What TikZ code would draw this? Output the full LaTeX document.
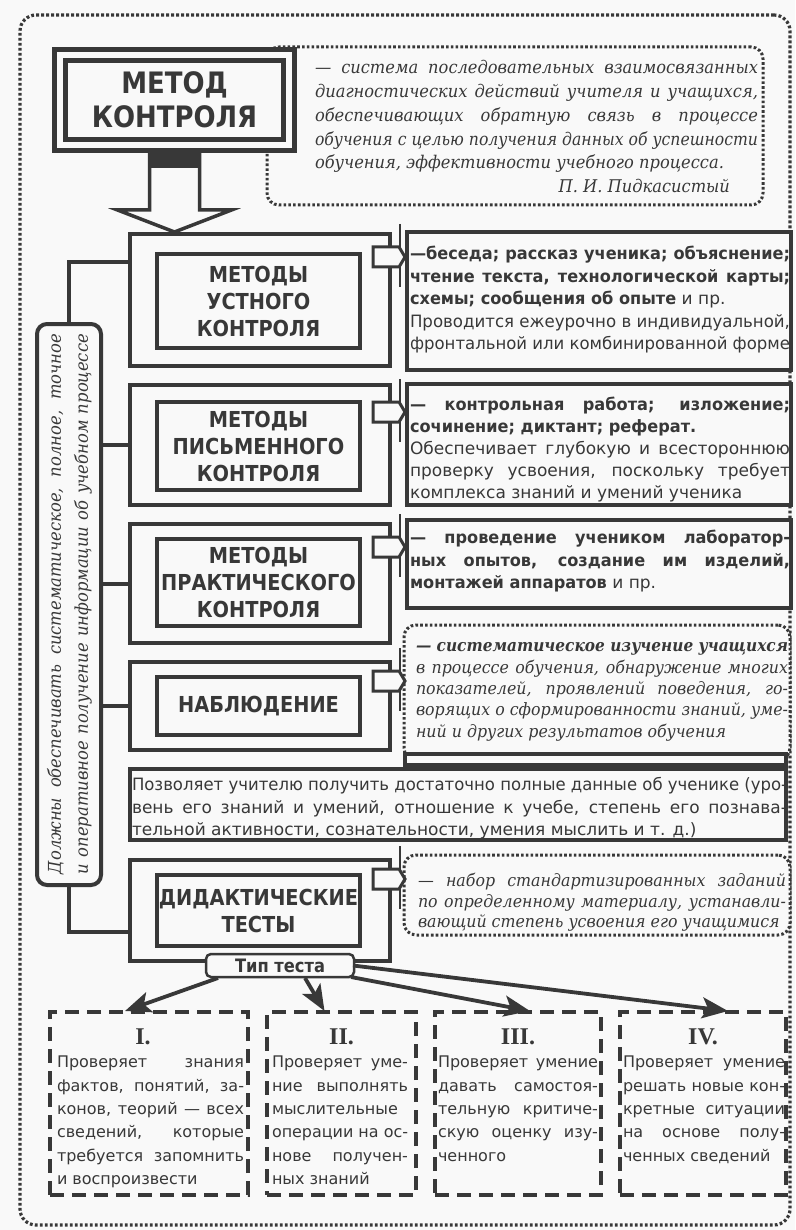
\documentclass[tikz,border=0pt]{standalone}
\usepackage{fontspec}
\usepackage{graphicx}
\usetikzlibrary{arrows.meta,calc}
\setmainfont{DejaVu Serif}
\newfontfamily\rsans{DejaVu Sans}
\newfontfamily\bsans[FakeStretch=0.88]{DejaVu Sans}
\newfontfamily\bbody[FakeStretch=0.95]{DejaVu Sans}
\newfontfamily\itser[FakeStretch=0.93]{DejaVu Serif}
\newfontfamily\numser{Liberation Serif}
\definecolor{ink}{gray}{0.22}
\definecolor{bg}{gray}{0.975}
\setlength\parindent{0pt}
\newlength\jlw
\newcommand\fline[2]{\spaceskip=0pt\xspaceskip=0pt\settowidth\jlw{#2}\ifdim\jlw>\hsize\makebox[\hsize][l]{\strut\resizebox{\hsize}{\height}{#2}}\else\makebox[\hsize][#1]{\strut #2}\fi\par}
\newcommand\jline{\fline{s}}
\newcommand\lline{\fline{l}}
\newcommand\rline{\fline{r}}
\tikzset{
 frameline/.style={draw=ink, line width=3.2pt, dash pattern=on 2.8pt off 2.2pt, rounded corners=16pt},
 dotbox/.style={draw=ink, line width=3pt, dash pattern=on 2.6pt off 2.2pt, rounded corners=12pt, fill=bg},
 titlebox/.style={draw=ink, double=bg, line width=5pt, double distance=6pt, fill=bg, align=center, font=\bsans\bfseries\fontsize{29.5}{34}\selectfont},
 outerblk/.style={draw=ink, line width=4pt, fill=bg},
 innerblk/.style={draw=ink, line width=4pt, fill=bg, align=center, font=\bsans\bfseries\fontsize{22}{27}\selectfont},
 rbox/.style={draw=ink, line width=3.5pt, fill=bg},
 lbox/.style={draw=ink, line width=4pt, fill=bg, rounded corners=10pt},
 tipbox/.style={draw=ink, line width=2.5pt, fill=bg, rounded corners=5pt, font=\bsans\bfseries\fontsize{18.5}{20}\selectfont},
 dashbox/.style={draw=ink, line width=3.8pt, dash pattern=on 14pt off 8pt},
 conn/.style={draw=ink, line width=4pt},
 typearrow/.style={draw=ink, line width=3.8pt, -{Stealth[length=26pt, width=21pt, inset=6pt]}},
 tabshape/.style={draw=ink, line width=3pt, fill=bg, line join=miter},
 tabline/.style={draw=ink, line width=2pt},
 bigarr/.style={draw=ink, line width=3.5pt, fill=bg, line join=miter},
 txt/.style={anchor=north west, align=left},
 txtR/.style={txt, font=\rsans\fontsize{17}{22.5}\selectfont},
 txtI/.style={txt, font=\itser\itshape\fontsize{17}{21.3}\selectfont},
 txtD/.style={txt, font=\rsans\fontsize{16}{23.3}\selectfont},
 numeral/.style={font=\numser\bfseries\fontsize{24}{24}\selectfont}
}
\begin{document}
\begin{tikzpicture}[x=1pt,y=-1pt, every node/.style={inner sep=0pt, outer sep=0pt, text=ink}]
\useasboundingbox (0,0) rectangle (795,1230);
\fill[bg] (0,0) rectangle (795,1230);
% outer frame
\node[frameline, minimum width=770pt, minimum height=1210pt] (frame) at (405,620) {};
% definition
\node[dotbox, minimum width=496pt, minimum height=158pt] (defbox) at (515,126) {};
\node[txt, text width=443pt, font=\itser\itshape\fontsize{17.5}{23.8}\selectfont] (deftxt) at (315,57) {%
\jline{— система последовательных взаимосвязанных}
\jline{диагностических действий учителя и учащихся,}
\jline{обеспечивающих обратную связь в процессе}
\jline{обучения с целью получения данных об успешности}
\lline{обучения, эффективности учебного процесса.}
\rline{П. И. Пидкасистый\hspace{28pt}}};
% method blocks
\node[outerblk, minimum width=260pt, minimum height=132pt] (b1) at (260,300) {};
\node[outerblk, minimum width=260pt, minimum height=120pt] (b2) at (260,445) {};
\node[outerblk, minimum width=260pt, minimum height=119pt] (b3) at (260,583.5) {};
\node[outerblk, minimum width=260pt, minimum height=88pt] (b4) at (260,706) {};
\node[outerblk, minimum width=260pt, minimum height=101pt] (b5) at (260,910.5) {};
\node[innerblk, minimum width=203pt, minimum height=94pt] (m1) at (258.5,301) {МЕТОДЫ\\УСТНОГО\\КОНТРОЛЯ};
\node[innerblk, minimum width=203pt, minimum height=88pt] (m2) at (258.5,446) {МЕТОДЫ\\ПИСЬМЕННОГО\\КОНТРОЛЯ};
\node[innerblk, minimum width=203pt, minimum height=87pt] (m3) at (258.5,582.5) {МЕТОДЫ\\ПРАКТИЧЕСКОГО\\КОНТРОЛЯ};
\node[innerblk, minimum width=203pt, minimum height=58pt] (m4) at (258.5,706) {НАБЛЮДЕНИЕ};
\node[innerblk, minimum width=203pt, minimum height=71pt] (m5) at (258.5,910.5) {ДИДАКТИЧЕСКИЕ\\ТЕСТЫ};
% title
\node[titlebox, minimum width=229pt, minimum height=90pt] (title) at (174.5,100) {МЕТОД\\КОНТРОЛЯ};
\path (title.south) ++(0,8) coordinate (ash);
\coordinate (atip) at (title.south |- b1.north);
\draw[bigarr] ($(ash)+(-25,0)$) -- ($(atip)+(-25,-24)$) -- ($(atip)+(-57,-24)$) -- ($(atip)+(0,-2)$) -- ($(atip)+(57,-24)$) -- ($(atip)+(25,-24)$) -- ($(ash)+(25,0)$);
\fill[ink] ($(ash)+(-25,-1)$) rectangle ($(ash)+(25,15)$);
% right boxes
\node[rbox, minimum width=384pt, minimum height=138pt] (r1) at (599,301) {};
\node[rbox, minimum width=384pt, minimum height=121pt] (r2) at (599,444.5) {};
\node[rbox, minimum width=384pt, minimum height=88pt] (r3) at (599,564) {};
\node[dotbox, minimum width=386pt, minimum height=135pt] (r4) at (597,692.5) {};
\node[rbox, minimum width=381pt, minimum height=11pt] (strip) at (595.5,759.5) {};
\node[rbox, minimum width=656pt, minimum height=71pt] (pozv) at (458,804.5) {};
\node[dotbox, minimum width=386pt, minimum height=80pt] (r5) at (597,895) {};
\node[txtR, text width=380pt] (r1t) at (410,244) {%
\jline{\bbody\bfseries —беседа; рассказ ученика; объяснение;}
\jline{\bbody\bfseries чтение текста, технологической карты;}
\lline{{\bbody\bfseries схемы; сообщения об опыте} и пр.}
\jline{Проводится ежеурочно в индивидуальной,}
\jline{фронтальной или комбинированной форме}};
\node[txtR, text width=380pt, font=\rsans\fontsize{17}{22.1}\selectfont] (r2t) at (410,395) {%
\jline{\bbody\bfseries — контрольная работа; изложение;}
\lline{\bbody\bfseries сочинение; диктант; реферат.}
\jline{Обеспечивает глубокую и всестороннюю}
\jline{проверку усвоения, поскольку требует}
\lline{комплекса знаний и умений ученика}};
\node[txtR, text width=380pt] (r3t) at (410,528) {%
\jline{\bbody\bfseries — проведение учеником лаборатор-}
\jline{\bbody\bfseries ных опытов, создание им изделий,}
\lline{{\bbody\bfseries монтажей аппаратов} и пр.}};
\node[txtI, text width=372pt] (r4t) at (416,637) {%
\jline{\bfseries — систематическое изучение учащихся}
\jline{в процессе обучения, обнаружение многих}
\jline{показателей, проявлений поведения, го-}
\jline{ворящих о сформированности знаний, уме-}
\lline{ний и других результатов обучения}};
\node[txtR, text width=655pt] (pozvt) at (132,775) {%
\jline{Позволяет учителю получить достаточно полные данные об ученике (уро-}
\jline{вень его знаний и умений, отношение к учебе, степень его познава-}
\lline{тельной активности, сознательности, умения мыслить и т. д.)}};
\node[txtI, text width=368pt, font=\itser\itshape\fontsize{17}{20.5}\selectfont] (r5t) at (418,872.5) {%
\jline{— набор стандартизированных заданий}
\jline{по определенному материалу, устанавли-}
\lline{вающий степень усвоения его учащимися}};
% tabs from blocks to right boxes
\foreach \b/\ty in {b1/257,b2/412,b3/547,b4/681,b5/879}{
  \coordinate (t\b) at (\b.east |- 0,\ty);
  \draw[tabline] ($(t\b)+(10,-33)$) -- ($(t\b)+(10,30)$);
  \draw[tabshape] ($(t\b)+(-17,-10)$) -- ($(t\b)+(9,-10)$) -- ($(t\b)+(15,0)$) -- ($(t\b)+(9,10)$) -- ($(t\b)+(-17,10)$) -- cycle;
}
% left box
\node[lbox, minimum width=64pt, minimum height=561pt] (L) at (69,604.5) {};
\node[rotate=90, text width=540pt, align=left, font=\itser\itshape\fontsize{17.6}{27}\selectfont] (Ltxt) at (69,604) {%
\jline{Должны обеспечивать систематическое, полное, точное}
\jline{и оперативное получение информации об учебном процессе}};
\draw[conn] (L.north) |- ($(b1.north west)+(0,28)$);
\draw[conn] (L.east |- b2.west) -- (b2.west);
\draw[conn] (L.east |- b3.west) -- (b3.west);
\draw[conn] (L.east |- b4.west) -- (b4.west);
\draw[conn] (L.south) |- ($(b5.south west)+(0,-29)$);
% test types
\node[dashbox, minimum width=198pt, minimum height=183pt] (d1) at (149,1103.5) {};
\node[dashbox, minimum width=149pt, minimum height=183pt] (d2) at (341.5,1103.5) {};
\node[dashbox, minimum width=166pt, minimum height=183pt] (d3) at (518,1103.5) {};
\node[dashbox, minimum width=166pt, minimum height=183pt] (d4) at (703,1103.5) {};
\node[tipbox, minimum width=148pt, minimum height=23pt] (tip) at (280,965.5) {Тип теста};
\draw[typearrow] ($(tip.south)+(-62,1)$) -- ($(d1.north)+(-24,-1)$);
\draw[typearrow] ($(tip.south)+(25,1)$) -- ($(d2.north)+(-17,-1)$);
\draw[typearrow] ($(tip.south east)+(-3,0)$) -- ($(d3.north)+(12,-1)$);
\draw[typearrow] ($(tip.east)+(-1,0)$) -- ($(d4.north)+(25,-1)$);
\node[numeral] (n1) at ($(d1.north)+(-6,25)$) {I.};
\node[numeral] (n2) at ($(d2.north)+(0,25)$) {II.};
\node[numeral] (n3) at ($(d3.north)+(0,25)$) {III.};
\node[numeral] (n4) at ($(d4.north)+(0,25)$) {IV.};
\node[txtD, text width=187pt] (d1t) at (57,1051.5) {%
\jline{Проверяет знания}
\jline{фактов, понятий, за-}
\jline{конов, теорий — всех}
\jline{сведений, которые}
\jline{требуется запомнить}
\lline{и воспроизвести}};
\node[txtD, text width=136pt] (d2t) at (272,1051.5) {%
\jline{Проверяет уме-}
\jline{ние выполнять}
\lline{мыслительные}
\jline{операции на ос-}
\jline{нове получен-}
\lline{ных знаний}};
\node[txtD, text width=160pt] (d3t) at (438,1051.5) {%
\jline{Проверяет умение}
\jline{давать самостоя-}
\jline{тельную критиче-}
\jline{скую оценку изу-}
\lline{ченного}};
\node[txtD, text width=162pt] (d4t) at (623,1051.5) {%
\jline{Проверяет умение}
\jline{решать новые кон-}
\jline{кретные ситуации}
\jline{на основе полу-}
\lline{ченных сведений}};
\end{tikzpicture}
\end{document}
